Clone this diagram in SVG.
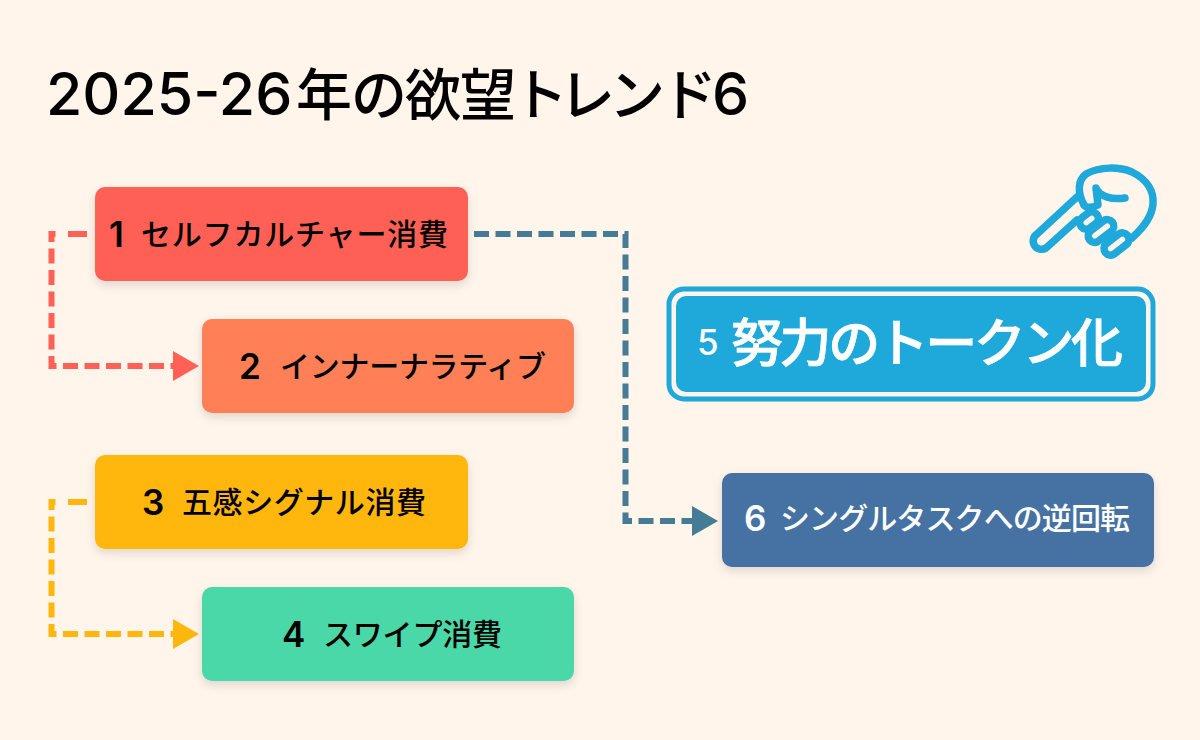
<svg xmlns="http://www.w3.org/2000/svg" width="1200" height="740" viewBox="0 0 1200 740">
<style>
text{font-family:"Noto Sans CJK JP","Noto Sans",sans-serif;font-weight:500;}
.k{fill:#000}.w{fill:#fff}
.d{font-family:Inter,"Noto Sans",sans-serif}
.l{font-size:30px}.n{font-size:35px;font-family:Inter,"Noto Sans",sans-serif;font-weight:600}
.c{fill:none;stroke-width:6;stroke-dasharray:15 6.5}
.o{stroke-dashoffset:3}
.t{fill:none;stroke-width:6}
</style>
<defs>
<filter id="s" x="-10%" y="-20%" width="120%" height="150%"><feDropShadow dx="0" dy="4" stdDeviation="5" flood-color="#000" flood-opacity=".13"/></filter>
</defs>
<rect width="1200" height="740" fill="#fff5eb"/>
<text y="115" class="k"><tspan x="46" font-size="59" class="d">2025-26</tspan><tspan font-size="56" x="296 351 405 460 512 559 609 661">年の欲望トレンド</tspan><tspan x="712" font-size="59" class="d">6</tspan></text>
<g id="connectors">
<path class="t" stroke="#ff6156" d="M87 234H68"/><path class="c o" stroke="#ff6156" d="M55.500 234H51.500V366H176"/><path fill="#ff6156" d="M173 351L199 366L173 381Z"/>
<path class="t" stroke="#ffb60d" d="M87 502H68"/><path class="c o" stroke="#ffb60d" d="M55.500 502H51.500V634H176"/><path fill="#ffb60d" d="M173 619L199 634L173 649Z"/>
<path class="c" stroke="#457b94" d="M474 234H625.500V521H695"/><path fill="#457b94" d="M692 506L718 521L692 536Z"/>
</g>
<g id="node1"><rect x="95" y="187" width="373" height="94" rx="10" fill="#ff6156" filter="url(#s)"/><text x="109" y="247" class="n k">1</text><text x="141" y="245" class="l k" textLength="307">セルフカルチャー消費</text></g>
<g id="node2"><rect x="202" y="319" width="372" height="94" rx="10" fill="#ff8057" filter="url(#s)"/><text x="239" y="379" class="n k">2</text><text x="280" y="377" class="l k" textLength="266">インナーナラティブ</text></g>
<g id="node3"><rect x="95" y="455" width="373" height="94" rx="10" fill="#ffb60d" filter="url(#s)"/><text x="142" y="515" class="n k">3</text><text x="182" y="513" class="l k" textLength="244">五感シグナル消費</text></g>
<g id="node4"><rect x="202" y="587" width="372" height="94" rx="10" fill="#4bd8a9" filter="url(#s)"/><text x="282" y="647" class="n k">4</text><text x="323" y="645" class="l k" textLength="179">スワイプ消費</text></g>
<g id="node5"><rect x="669" y="289" width="484" height="110" rx="15" fill="none" stroke="#1fa8da" stroke-width="5"/><rect x="676" y="296" width="470" height="96" rx="10" fill="#1fa8da"/><text x="697" y="355" font-size="35" class="w d">5</text><text x="731" y="362" font-size="52" class="w" stroke="#fff" stroke-width=".7" textLength="392">努力のトークン化</text></g>
<g id="node6"><rect x="722" y="473" width="432" height="94" rx="10" fill="#4472a2" filter="url(#s)"/><text x="744" y="531" class="n w">6</text><text x="780" y="529" class="l w" textLength="350">シングルタスクへの逆回転</text></g>
<g id="hand" fill="none" stroke="#1fa8da" stroke-width="7.500" stroke-linecap="round" stroke-linejoin="round">
<path d="M1077 197L1037 234a8 8 0 0 0 9 14L1077 220"/>
<path d="M1084 205C1077 192 1078 180 1086 174C1100 166 1120 167 1132 172C1148 180 1154 192 1153 204C1152 216 1145 226 1132 238"/>
<path d="M1084 205C1086 208 1092 208 1098 205L1096 188C1100 197 1112 200 1125 198"/>
<rect x="-10" y="-6.500" width="20" height="13" rx="6.500" transform="translate(1089 220.500) rotate(-38)"/>
<rect x="-14.500" y="-6.500" width="29" height="13" rx="6.500" transform="translate(1101 231) rotate(-38)"/>
<rect x="-14" y="-6.500" width="28" height="13" rx="6.500" transform="translate(1116.500 244) rotate(-38)"/>
</g>
</svg>
